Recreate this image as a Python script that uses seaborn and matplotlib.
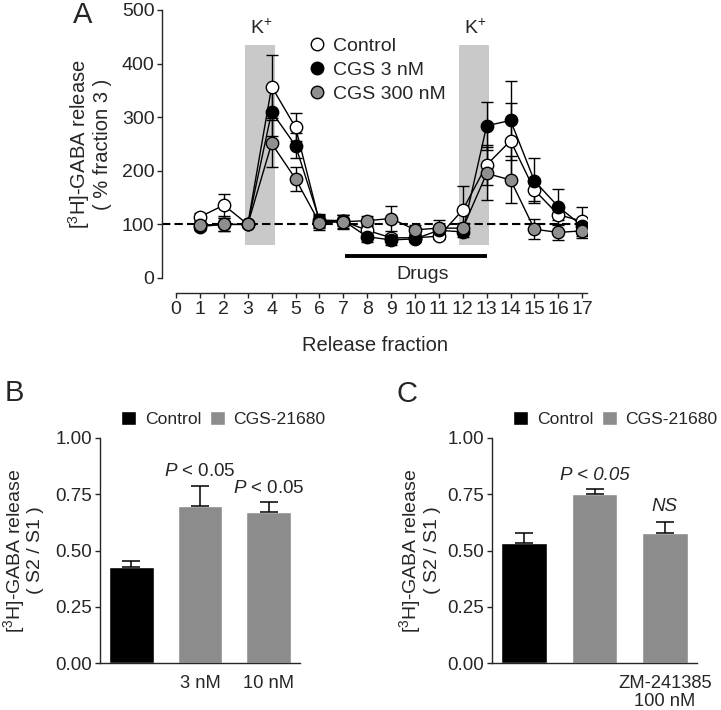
import matplotlib
matplotlib.use('Agg')
import matplotlib.pyplot as plt
import seaborn as sns
import pandas as pd
from matplotlib.lines import Line2D
from matplotlib.patches import Patch

# panel A - time course
fractions = list(range(1, 18))
control = [114, 136, 100, 357, 281, 105, 106, 89, 75, 75, 78, 127, 211, 256, 164, 118, 106]
control_err = [8, 21, 0, 59, 26, 12, 12, 8, 8, 6, 6, 44, 37, 71, 20, 10, 27]
cgs3 = [96, 100, 100, 310, 247, 108, 107, 77, 71, 73, 89, 86, 284, 294, 181, 133, 97]
cgs3_err = [6, 12, 0, 45, 24, 12, 10, 10, 10, 6, 8, 10, 45, 74, 42, 33, 14]
cgs300 = [99, 100, 100, 251, 185, 103, 105, 107, 111, 90, 93, 93, 195, 183, 91, 85, 88]
cgs300_err = [6, 12, 0, 43, 23, 13, 13, 8, 24, 8, 15, 10, 50, 44, 19, 14, 14]
series_names = ['Control', 'CGS 3 nM', 'CGS 300 nM']

# panel B
b_groups = ['Control', '3 nM', '10 nM']
b_vals = [0.427, 0.699, 0.670]
b_err = [0.026, 0.089, 0.044]
b_p = ['', r'$\mathit{P}$ < 0.05', r'$\mathit{P}$ < 0.05']

# panel C
c_groups = ['Control', 'CGS', 'ZM-241385\n100 nM']
c_vals = [0.535, 0.750, 0.578]
c_err = [0.045, 0.022, 0.048]
c_p = ['', 'P < 0.05', 'NS']
treat = ['Control', 'CGS-21680', 'CGS-21680']

sns.set_style('ticks')
plt.rcParams['font.family'] = ['Liberation Sans', 'DejaVu Sans']
plt.rcParams['mathtext.fontset'] = 'custom'
plt.rcParams['mathtext.rm'] = 'Liberation Sans'
plt.rcParams['mathtext.it'] = 'Liberation Sans:italic'
plt.rcParams['mathtext.default'] = 'regular'
plt.rcParams['axes.linewidth'] = 1.0
plt.rcParams['xtick.major.width'] = 1.0
plt.rcParams['ytick.major.width'] = 1.0
plt.rcParams['xtick.major.size'] = 3.5
plt.rcParams['ytick.major.size'] = 3.5

BLACK = '#000000'
GREY = '#8c8c8c'
BAND = '#c9c9c9'
FS = 14

fig = plt.figure(figsize=(7.21, 7.10), dpi=100)

# ---------------- A
ax = fig.add_axes([162 / 721, 1 - 278 / 710, 425 / 721, 268 / 710])
df = pd.DataFrame({'fraction': fractions * 3,
                   'release': control + cgs3 + cgs300,
                   'err': control_err + cgs3_err + cgs300_err,
                   'group': [n for n in series_names for _ in fractions]})
faces = {'Control': 'white', 'CGS 3 nM': BLACK, 'CGS 300 nM': '#8f8f8f'}

ax.fill_between([2.9, 4.15], 62, 435, color=BAND, lw=0, zorder=0)
ax.fill_between([11.85, 13.1], 62, 435, color=BAND, lw=0, zorder=0)
ax.axhline(100, color='black', lw=1.5, ls=(0, (4, 2)), zorder=1)

for i, name in enumerate(series_names):
    d = df[df['group'] == name]
    ax.errorbar(d['fraction'], d['release'], yerr=d['err'], fmt='none',
                ecolor='black', elinewidth=1, capsize=4.5, capthick=1, zorder=2)
    sns.lineplot(data=d, x='fraction', y='release', color='black', lw=1,
                 ax=ax, zorder=3)
    sns.scatterplot(data=d, x='fraction', y='release', color=faces[name],
                    edgecolor='black', linewidth=1, s=80, ax=ax, zorder=4 + i,
                    legend=False)

ax.plot([7.05, 13.0], [41, 41], color='black', lw=2.8, solid_capstyle='butt')
ax.text(10.3, 6, 'Drugs', ha='center', va='center', fontsize=FS)
ax.text(3.55, 466, 'K$^{+}$', ha='center', va='center', fontsize=FS)
ax.text(12.5, 466, 'K$^{+}$', ha='center', va='center', fontsize=FS)

ax.set_xlim(-0.59, 17.2)
ax.set_ylim(0, 500)
ax.set_xticks(list(range(0, 18)))
ax.set_yticks([0, 100, 200, 300, 400, 500])
ax.tick_params(labelsize=FS, pad=2)
sns.despine(ax=ax)
ax.spines['bottom'].set_position(('outward', 11))
ax.spines['bottom'].set_bounds(0, 17.2)
ax.set_xlabel('Release fraction', fontsize=14.5, labelpad=13)
ax.set_ylabel('[$^3$H]-GABA release\n( % fraction 3 )', fontsize=14.5,
              labelpad=7, linespacing=1.05)

handles = [Line2D([], [], ls='none', marker='o', markersize=9,
                  markerfacecolor=faces[n], markeredgecolor='black',
                  markeredgewidth=1) for n in series_names]
ax.legend(handles, series_names, loc='upper left', frameon=False,
          bbox_to_anchor=(307 / 721, 1 - 37 / 710),
          bbox_transform=fig.transFigure, fontsize=FS, handlelength=1,
          handletextpad=0.35, labelspacing=0.33, borderpad=0, borderaxespad=0)

fig.text(83 / 721, 1 - 15 / 710, 'A', fontsize=21, ha='center', va='center')


def bar_panel(rect, groups, vals, errs, plabels, ticklabels, legend_x, letter,
              letter_xy, italic_all, labelpad):
    bx = fig.add_axes(rect)
    d = pd.DataFrame({'group': groups, 'value': vals, 'treat': treat})
    sns.barplot(data=d, x='group', y='value', hue='treat', dodge=False,
                palette={'Control': BLACK, 'CGS-21680': GREY}, width=0.65,
                legend=False, ax=bx, saturation=1)
    bx.errorbar(range(len(groups)), vals, yerr=[[0] * len(errs), errs],
                fmt='none', ecolor='black', elinewidth=1.1, capsize=6.5,
                capthick=1.1)
    for i, lab in enumerate(plabels):
        if not lab:
            continue
        if italic_all:
            off = 0.06 if lab.startswith('P') else 0.07
            bx.text(i, vals[i] + errs[i] + off, lab, ha='center', va='center',
                    fontsize=13.5, style='italic')
        else:
            bx.text(i, vals[i] + errs[i] + 0.062, lab, ha='center',
                    va='center', fontsize=13.5)
    bx.set_ylim(0, 1.0)
    bx.set_yticks([0, 0.25, 0.5, 0.75, 1.0])
    bx.set_yticklabels(['0.00', '0.25', '0.50', '0.75', '1.00'])
    bx.set_xticks(range(len(groups)))
    bx.set_xticklabels(ticklabels, linespacing=1.0)
    bx.tick_params(axis='x', length=0, pad=9, labelsize=13.2)
    bx.tick_params(axis='y', labelsize=13.5, pad=2)
    bx.set_xlabel('')
    bx.set_ylabel('[$^3$H]-GABA release\n( S2 / S1 )', fontsize=14,
                  labelpad=labelpad, linespacing=1.05)
    sns.despine(ax=bx)
    hs = [Patch(facecolor=BLACK), Patch(facecolor=GREY)]
    bx.legend(hs, ['Control', 'CGS-21680'], ncol=2, frameon=False,
              loc='center left', bbox_to_anchor=(legend_x / 721, 1 - 419 / 710),
              bbox_transform=fig.transFigure, fontsize=12.6, handlelength=0.85,
              handleheight=0.85, handletextpad=0.5, columnspacing=0.5,
              borderpad=0, borderaxespad=0)
    fig.text(letter_xy[0] / 721, 1 - letter_xy[1] / 710, letter, fontsize=21,
             ha='center', va='center')
    return bx


bar_panel([100 / 721, 1 - 663 / 710, 200 / 721, 225 / 710], b_groups, b_vals,
          b_err, b_p, ['', '3 nM', '10 nM'], 121, 'B', (14, 393), False, 8)
bar_panel([492 / 721, 1 - 663 / 710, 205 / 721, 225 / 710], c_groups, c_vals,
          c_err, c_p, ['', '', 'ZM-241385\n100 nM'], 513, 'C', (407, 394),
          True, 5)

fig.savefig('out.png', dpi=100)
